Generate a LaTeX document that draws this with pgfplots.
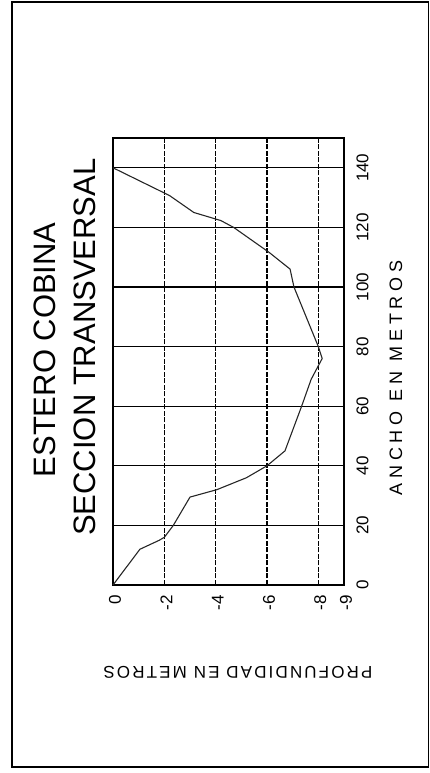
\documentclass[border=0pt]{standalone}
\usepackage{fontspec}
\setmainfont{Liberation Sans}
\newfontfamily\lblfontA{Liberation Sans}[LetterSpace=27]
\newfontfamily\lblfontB{Liberation Sans}[LetterSpace=12.6]
\usepackage{pgfplots}
\pgfplotsset{compat=1.18}
\pgfplotstableread{
depth width
0 0
-1.05 12
-1.8 15
-2.0 16
-2.35 20
-3.0 29.5
-4.05 32
-5.2 36
-6.0 40
-6.7 45
-7.35 60
-7.72 69
-8.15 76
-8.0 80
-7.05 100
-6.9 106
-6.1 111.5
-4.7 120
-4.2 122.3
-3.15 125
-2.2 130.7
0 140
}\profile
\begin{document}
\begin{tikzpicture}[x=1pt,y=1pt]
\path[use as bounding box] (0,0) rectangle (429,773);
\draw[line width=1.3pt] (12,6) rectangle (428.3,771);
\begin{axis}[
  at={(113pt,188pt)}, anchor=south west,
  scale only axis, width=231pt, height=447pt,
  xmin=-9, xmax=0, x dir=reverse,
  ymin=0, ymax=150,
  xtick={0,-2,-4,-6,-8,-9},
  xticklabels={0,-2,-4,-6,-8,-9},
  ytick={0,20,40,60,80,100,120,140},
  yticklabels={0,20,40,60,80,100,120,140},
  yticklabel pos=right,
  major tick length=0pt,
  xmajorgrids, ymajorgrids,
  major x grid style={black, line width=1.2pt, dash pattern=on 5pt off 1.5pt},
  major y grid style={black, line width=1.2pt},
  axis line style={line width=2pt},
  xticklabel style={rotate=90, anchor=east, font=\fontsize{17}{17}\selectfont, xshift=-7pt, yshift=-2pt},
  yticklabel style={rotate=90, anchor=north, font=\fontsize{17}{17}\selectfont, yshift=-9pt},
  clip=false,
]
\addplot[black!85, line width=1.1pt] table[x=depth, y=width] {\profile};
\node[rotate=90, anchor=center, font=\fontsize{31}{31}\selectfont] at (axis description cs:-0.294,0.526) {ESTERO COBINA};
\node[rotate=90, anchor=center, font=\fontsize{31}{31}\selectfont] at (axis description cs:-0.121,0.532) {SECCION TRANSVERSAL};
\node[rotate=90, anchor=center, font=\lblfontA\fontsize{18}{18}\selectfont] at (axis description cs:1.225,0.463) {ANCHO EN METROS};
\node[rotate=180, anchor=center, font=\lblfontB\fontsize{17}{17}\selectfont] at (axis description cs:0.541,-0.195) {PROFUNDIDAD EN METROS};
\end{axis}
\end{tikzpicture}
\end{document}
